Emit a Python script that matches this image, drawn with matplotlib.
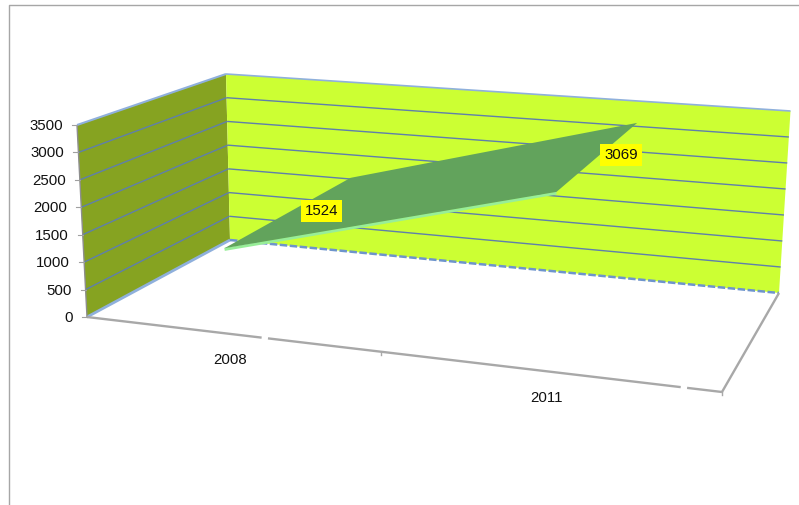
import matplotlib
matplotlib.use("Agg")
import matplotlib.pyplot as plt
import numpy as np

plt.rcParams['font.family'] = ['Liberation Sans', 'DejaVu Sans']

# chart data
years = ['2008', '2011']
sales = [1524, 3069]
year_pos = [0.22, 0.73]  # position of each category along the floor, 0 to 1
axis_ticks = [0, 500, 1000, 1500, 2000, 2500, 3000, 3500]
axis_max = 3500

# box corners in screen pixels (x side, height, depth)
BACK_LOW_L = np.array([230.0, 240.0])
BACK_LOW_R = np.array([779.0, 293.0])
BACK_TOP_L = np.array([226.0, 74.0])
BACK_TOP_R = np.array([790.5, 111.0])
FRONT_LOW_L = np.array([87.0, 317.0])
FRONT_LOW_R = np.array([722.0, 392.0])
FRONT_TOP_L = np.array([77.0, 125.0])
FRONT_TOP_R = np.array([735.0, 182.0])

WALL_SIDE = '#86A321'
WALL_BACK = '#CCFF33'
GRID = '#5F7FAC'
EDGE_BLUE = '#8FB0DC'
FLOOR_EDGE = '#A8A8A8'
AREA = '#62A35C'
AREA_EDGE = '#98EE98'
TEXT = '#111111'
FONT_SIZE = 10.8

# nudges for the text on the chart
year_label_dx = [3, -4]
value_label_dx = [34, 24]


def project(x, value, depth):
    """Trilinear map of chart coordinates to pixels. depth: 0 back wall, 1 front."""
    h = value / axis_max
    low_b = BACK_LOW_L + (BACK_LOW_R - BACK_LOW_L) * x
    top_b = BACK_TOP_L + (BACK_TOP_R - BACK_TOP_L) * x
    low_f = FRONT_LOW_L + (FRONT_LOW_R - FRONT_LOW_L) * x
    top_f = FRONT_TOP_L + (FRONT_TOP_R - FRONT_TOP_L) * x
    back = low_b + (top_b - low_b) * h
    front = low_f + (top_f - low_f) * h
    return back + (front - back) * depth


def line3d(ax, a, b, **kw):
    ax.plot([a[0], b[0]], [a[1], b[1]], solid_capstyle='butt', **kw)


fig = plt.figure(figsize=(7.99, 5.05), dpi=100)
ax = fig.add_axes([0, 0, 1, 1])
ax.set_xlim(0, 799)
ax.set_ylim(505, 0)
ax.axis('off')

# outer chart frame, only top and left show
ax.plot([8.5, 8.5, 799], [505, 5, 5], color='#A6A6A6', lw=1)

# walls
side = [project(0, 0, 1), project(0, axis_max, 1), project(0, axis_max, 0), project(0, 0, 0)]
back = [project(0, 0, 0), project(0, axis_max, 0), project(1, axis_max, 0), project(1, 0, 0)]
ax.fill(*zip(*side), color=WALL_SIDE, lw=0, zorder=1)
ax.fill(*zip(*back), color=WALL_BACK, lw=0, zorder=1)

# gridlines round both walls
for v in axis_ticks[1:-1]:
    line3d(ax, project(0, v, 1), project(0, v, 0), color=GRID, lw=1, zorder=2)
    line3d(ax, project(0, v, 0), project(1, v, 0), color=GRID, lw=1, zorder=2)

# wall edges
line3d(ax, project(0, axis_max, 1), project(0, axis_max, 0), color=EDGE_BLUE, lw=1.5, zorder=2)
line3d(ax, project(0, axis_max, 0), project(1, axis_max, 0), color=EDGE_BLUE, lw=1.2, zorder=2)
line3d(ax, project(0, 0, 1), project(0, 0, 0), color=EDGE_BLUE, lw=2, zorder=2)
line3d(ax, project(0, 0, 0), project(1, 0, 0), color='#6E94CC', lw=1.8, ls=(0, (3, 1)), zorder=2)
line3d(ax, project(0, 0, 1), project(0, axis_max, 1), color='#8E8E8E', lw=1, zorder=2)

# floor edges with their small breaks
for x0, x1 in [(0, 0.275), (0.285, 0.935), (0.945, 1)]:
    line3d(ax, project(x0, 0, 1), project(x1, 0, 1), color=FLOOR_EDGE, lw=1.7, zorder=2)
line3d(ax, project(1, 0, 1), project(1, 0, 0), color=FLOOR_EDGE, lw=1.7, zorder=2)
tick = project(0.463, 0, 1)
ax.plot([tick[0], tick[0]], [tick[1], tick[1] + 3], color=FLOOR_EDGE, lw=1, zorder=2)
tick = project(1, 0, 1)
ax.plot([tick[0], tick[0]], [tick[1], tick[1] + 3], color=FLOOR_EDGE, lw=1, zorder=2)

# top surface of the area series, running from the back wall to the front
surface = [project(year_pos[0], sales[0], 1), project(year_pos[0], sales[0], 0),
           project(year_pos[1], sales[1], 0), project(year_pos[1], sales[1], 1)]
edge_offset = np.array([0, 1.2])
line3d(ax, surface[0] + edge_offset, surface[3] + edge_offset, color=AREA_EDGE, lw=2.2, zorder=3)
ax.fill(*zip(*surface), color=AREA, lw=0, zorder=4)

# value axis labels and ticks
for v in axis_ticks:
    p = project(0, v, 1)
    ax.plot([p[0] - 5, p[0]], [p[1], p[1]], color='#A0A0A0', lw=0.8, zorder=2)
    ax.text(p[0] - 14, p[1] + 1, str(v), ha='right', va='center', fontsize=FONT_SIZE, color=TEXT)

# category labels under the front edge
for name, x, dx in zip(years, year_pos, year_label_dx):
    p = project(x, 0, 1)
    ax.text(p[0] + dx, p[1] + 26, name, ha='center', va='center', fontsize=FONT_SIZE, color=TEXT)

# value labels on the surface
for x, v, dx in zip(year_pos, sales, value_label_dx):
    p = project(x, v, 0.5)
    ax.text(p[0] + dx, p[1] - 2, str(v), ha='center', va='center', fontsize=FONT_SIZE, color=TEXT,
            bbox=dict(facecolor='#FFFF00', edgecolor='none', boxstyle='square,pad=0.27'), zorder=5)

fig.savefig('out.png', dpi=100)
